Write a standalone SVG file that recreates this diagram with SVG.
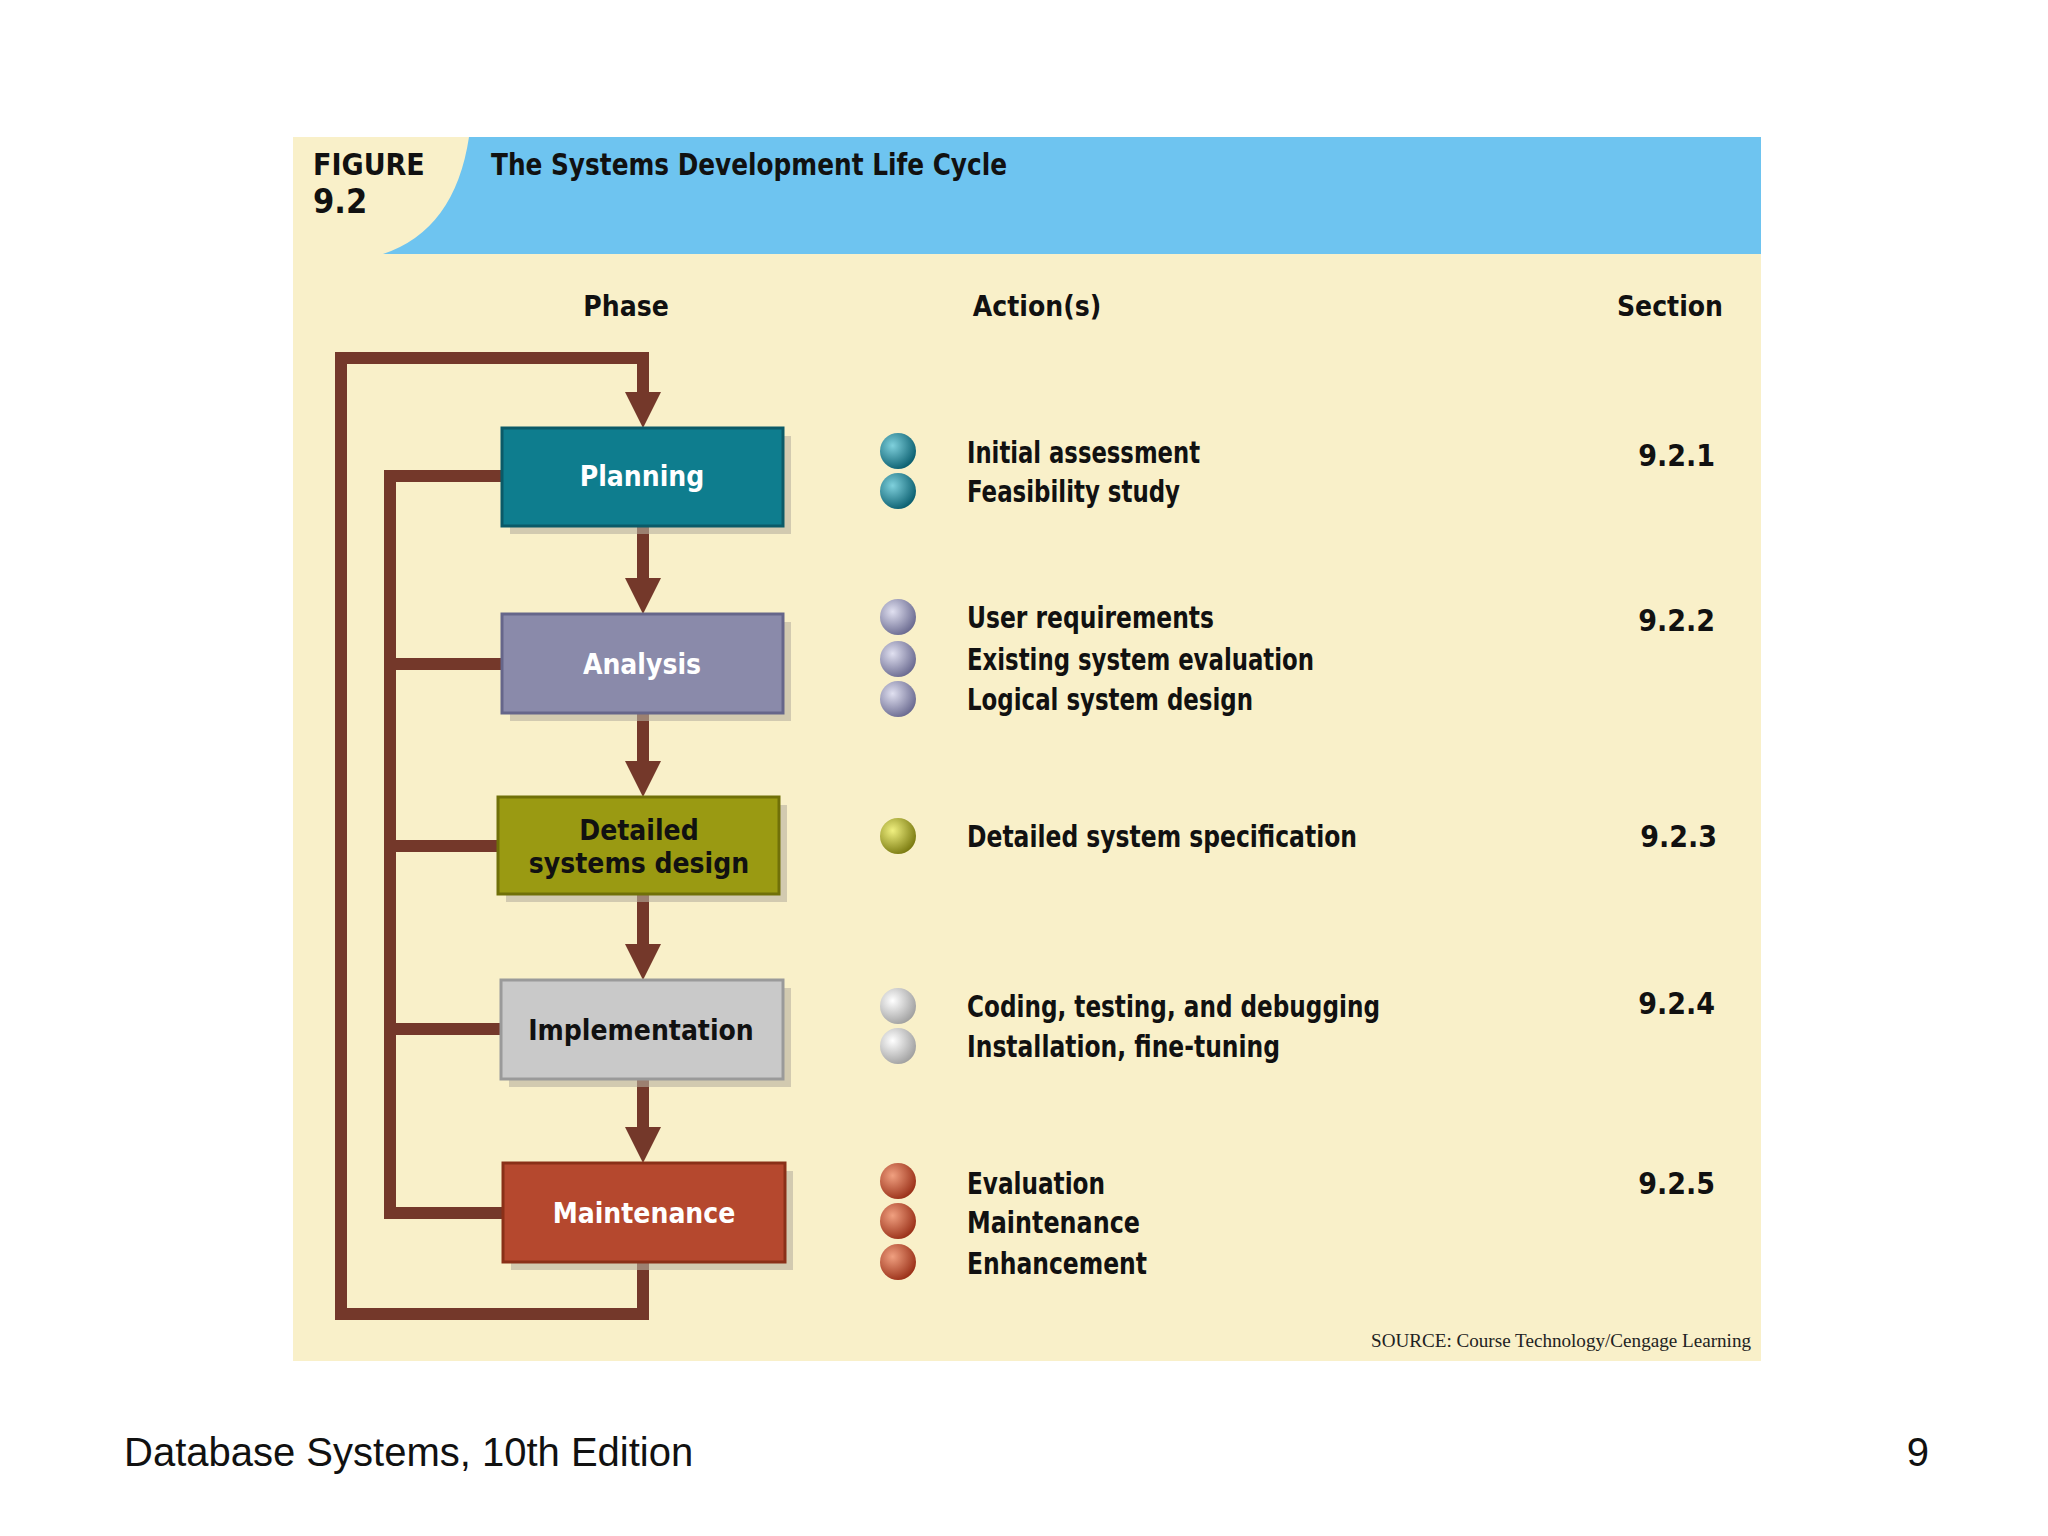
<svg xmlns="http://www.w3.org/2000/svg" width="2048" height="1536" viewBox="0 0 2048 1536">
<defs>
<style>
.t{font-family:"DejaVu Sans Condensed","Liberation Sans",sans-serif;font-weight:bold;fill:#111}
.a{font-size:30px}
.bx{stroke-width:3}
.ln{stroke:#74382a;stroke-width:12;fill:none}
.bl{font-family:"DejaVu Sans Condensed","Liberation Sans",sans-serif;font-weight:bold;font-size:28px;text-anchor:middle}
</style>
<marker id="ah" markerWidth="4" markerHeight="4" refX="2" refY="2" orient="auto" markerUnits="strokeWidth">
<path d="M0,0 L4,2 L0,4 z" fill="#74382a"/>
</marker>
<radialGradient id="gT" cx="0.35" cy="0.35" r="0.7"><stop offset="0" stop-color="#7fd0dc"/><stop offset="1" stop-color="#0b5f70"/></radialGradient>
<radialGradient id="gA" cx="0.35" cy="0.35" r="0.7"><stop offset="0" stop-color="#e0e0f0"/><stop offset="1" stop-color="#6a6a90"/></radialGradient>
<radialGradient id="gD" cx="0.35" cy="0.35" r="0.7"><stop offset="0" stop-color="#f0f080"/><stop offset="1" stop-color="#7a7a10"/></radialGradient>
<radialGradient id="gI" cx="0.35" cy="0.35" r="0.7"><stop offset="0" stop-color="#ffffff"/><stop offset="1" stop-color="#a0a0a0"/></radialGradient>
<radialGradient id="gM" cx="0.35" cy="0.35" r="0.7"><stop offset="0" stop-color="#f0a080"/><stop offset="1" stop-color="#9a3018"/></radialGradient>
</defs>
<rect width="2048" height="1536" fill="#fff"/>
<rect x="293" y="137" width="1468" height="1224" fill="#f9f0c9"/>
<path d="M469,137 L1761,137 L1761,254 L383,254 Q455,230 469,137 z" fill="#6ec4f0"/>
<text class="t" x="313" y="175" font-size="30" font-weight="normal">FIGURE</text>
<text class="t" x="313" y="213" font-size="34">9.2</text>
<text class="t" x="491" y="175" font-size="31" textLength="516" lengthAdjust="spacingAndGlyphs">The Systems Development Life Cycle</text>
<text class="t" x="626" y="316" font-size="28" text-anchor="middle">Phase</text>
<text class="t" x="1037" y="316" font-size="28" text-anchor="middle">Action(s)</text>
<text class="t" x="1670" y="316" font-size="28" text-anchor="middle">Section</text>
<g id="connectors">
<path class="ln" d="M341,1314 L341,358 L643,358 L643,400" />
<path d="M625,392 L661,392 L643,428 z" fill="#74382a"/>
<path class="ln" d="M643,1262 L643,1314 L335,1314"/>
<path class="ln" d="M502,476 L390,476 L390,1213 L503,1213 M390,664 L502,664 M390,846 L498,846 M390,1029 L501,1029"/>
<path class="ln" d="M643,526 L643,590"/><path d="M625,578 L661,578 L643,614 z" fill="#74382a"/>
<path class="ln" d="M643,713 L643,773"/><path d="M625,761 L661,761 L643,797 z" fill="#74382a"/>
<path class="ln" d="M643,894 L643,956"/><path d="M625,944 L661,944 L643,980 z" fill="#74382a"/>
<path class="ln" d="M643,1079 L643,1139"/><path d="M625,1127 L661,1127 L643,1163 z" fill="#74382a"/>
</g>
<g id="planning"><rect x="510" y="436" width="281" height="98" fill="#b8b0a0" opacity="0.6"/><rect class="bx" x="502" y="428" width="281" height="98" fill="#0e7d8e" stroke="#0a5a68"/><text class="bl" x="642" y="486" fill="#fff">Planning</text></g>
<g id="analysis"><rect x="510" y="622" width="281" height="99" fill="#b8b0a0" opacity="0.6"/><rect class="bx" x="502" y="614" width="281" height="99" fill="#8a8aaa" stroke="#66668a"/><text class="bl" x="642" y="674" fill="#fff">Analysis</text></g>
<g id="detailed"><rect x="506" y="805" width="281" height="97" fill="#b8b0a0" opacity="0.6"/><rect class="bx" x="498" y="797" width="281" height="97" fill="#9a9a12" stroke="#707008"/><text class="bl" x="639" y="840" fill="#111">Detailed</text><text class="bl" x="639" y="873" fill="#111">systems design</text></g>
<g id="implementation"><rect x="509" y="988" width="282" height="99" fill="#b8b0a0" opacity="0.6"/><rect class="bx" x="501" y="980" width="282" height="99" fill="#c9c9c9" stroke="#9a9a9a"/><text class="bl" x="641" y="1040" fill="#111">Implementation</text></g>
<g id="maintenance"><rect x="511" y="1171" width="282" height="99" fill="#b8b0a0" opacity="0.6"/><rect class="bx" x="503" y="1163" width="282" height="99" fill="#b5482e" stroke="#8a3018"/><text class="bl" x="644" y="1223" fill="#fff">Maintenance</text></g>
<g id="actions">
<g fill="url(#gT)"><circle cx="898" cy="451" r="18"/><circle cx="898" cy="491" r="18"/></g>
<g fill="url(#gA)"><circle cx="898" cy="617" r="18"/><circle cx="898" cy="659" r="18"/><circle cx="898" cy="699" r="18"/></g>
<g fill="url(#gD)"><circle cx="898" cy="836" r="18"/></g>
<g fill="url(#gI)"><circle cx="898" cy="1006" r="18"/><circle cx="898" cy="1046" r="18"/></g>
<g fill="url(#gM)"><circle cx="898" cy="1181" r="18"/><circle cx="898" cy="1221" r="18"/><circle cx="898" cy="1262" r="18"/></g>
<text class="t a" x="967" y="463" textLength="233" lengthAdjust="spacingAndGlyphs">Initial assessment</text>
<text class="t a" x="967" y="502" textLength="213" lengthAdjust="spacingAndGlyphs">Feasibility study</text>
<text class="t a" x="967" y="628" textLength="247" lengthAdjust="spacingAndGlyphs">User requirements</text>
<text class="t a" x="967" y="670" textLength="347" lengthAdjust="spacingAndGlyphs">Existing system evaluation</text>
<text class="t a" x="967" y="710" textLength="286" lengthAdjust="spacingAndGlyphs">Logical system design</text>
<text class="t a" x="967" y="847" textLength="390" lengthAdjust="spacingAndGlyphs">Detailed system specification</text>
<text class="t a" x="967" y="1017" textLength="413" lengthAdjust="spacingAndGlyphs">Coding, testing, and debugging</text>
<text class="t a" x="967" y="1057" textLength="313" lengthAdjust="spacingAndGlyphs">Installation, fine-tuning</text>
<text class="t a" x="967" y="1194" textLength="138" lengthAdjust="spacingAndGlyphs">Evaluation</text>
<text class="t a" x="967" y="1233" textLength="173" lengthAdjust="spacingAndGlyphs">Maintenance</text>
<text class="t a" x="967" y="1274" textLength="180" lengthAdjust="spacingAndGlyphs">Enhancement</text>
<text class="t a" x="1715" y="466" text-anchor="end">9.2.1</text>
<text class="t a" x="1715" y="631" text-anchor="end">9.2.2</text>
<text class="t a" x="1717" y="847" text-anchor="end">9.2.3</text>
<text class="t a" x="1715" y="1014" text-anchor="end">9.2.4</text>
<text class="t a" x="1715" y="1194" text-anchor="end">9.2.5</text>
</g>
<text x="1751" y="1347" font-family="Liberation Serif,serif" font-size="19" fill="#222" text-anchor="end" textLength="380" lengthAdjust="spacingAndGlyphs">SOURCE: Course Technology/Cengage Learning</text>
<text x="124" y="1466" font-family="Liberation Sans,sans-serif" font-size="40" fill="#111">Database Systems, 10th Edition</text>
<text x="1929" y="1466" font-family="Liberation Sans,sans-serif" font-size="40" fill="#111" text-anchor="end">9</text>
</svg>
